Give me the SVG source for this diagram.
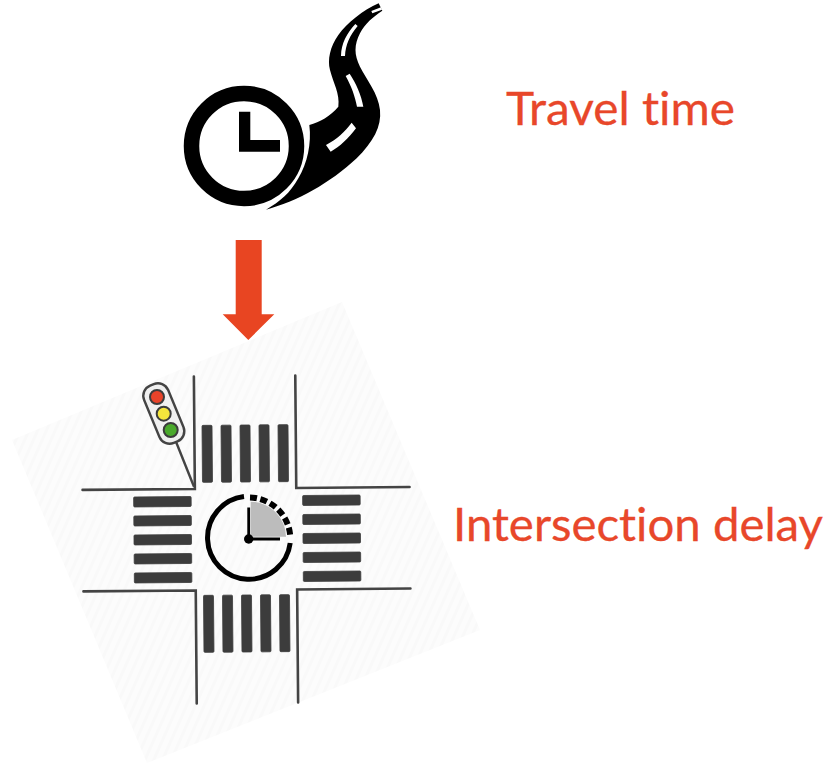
<svg xmlns="http://www.w3.org/2000/svg" width="830" height="766" viewBox="0 0 830 766">
<style>
.label{font-family:"Lato","Liberation Sans",sans-serif;font-size:46px;fill:#e8472a;font-variant-ligatures:none;stroke:#e8472a;stroke-width:.3}
.road{fill:none;stroke:#444;stroke-width:2.6;stroke-linecap:round}
.bar{fill:#3c3c3c;stroke:#3c3c3c;stroke-width:.8}
.lamp{stroke:#3c3c3c;stroke-width:2}
</style>
<defs>
<pattern id="stripes" width="8" height="8" patternUnits="userSpaceOnUse" patternTransform="rotate(24)">
<rect width="8" height="8" fill="#fcfcfc"/>
<rect width="3" height="8" fill="#f9f9f9"/>
</pattern>
</defs>
<rect width="830" height="766" fill="#fff"/>
<g id="travel-time-icon">
<g transform="translate(170 0) scale(.33333)">
<path d="M288 629C380 605 480 550 560 475C610 425 635 380 630 330C625 280 590 240 570 200C552 165 552 135 570 100C585 70 610 50 637 32L626 10C580 30 530 70 505 105C480 140 472 180 480 210C490 250 510 280 505 320C480 350 450 365 418 375C425 430 412 490 385 535C360 580 330 605 288 629Z" fill="#000"/>
<path d="M468 435L482 455C510 440 535 415 558 385L545 368C525 395 500 418 468 435Z M527 228L539 221C558 250 574 285 580 320L561 320C555 290 545 260 527 228Z M513 168L525 168C526 135 540 105 563 78L556 72C530 100 514 130 513 168Z M604 33L633 22L636 29L607 40Z" fill="#fff"/>
</g>
<circle cx="244" cy="146" r="52.500" fill="#fff" stroke="#000" stroke-width="15.500"/>
<path d="M239 111.700H250.300V140H280V151.700H239Z" fill="#000"/>
</g>
<g id="arrow">
<path d="M235.700 240H261.700V314.300H274.300L248.300 340L222.700 314.300H235.700Z" fill="#e84522"/>
</g>
<g id="intersection-icon">
<path d="M342 302L480 630L147 763L12 440Z" fill="url(#stripes)"/>
<g transform="rotate(-.5 246 539)">
<g id="roads">
<path class="road" d="M195.300 376V488.500H83"/>
<path class="road" d="M296.700 376V488.500H410"/>
<path class="road" d="M83 590H195.300V703"/>
<path class="road" d="M410 590H296.700V703"/>
</g>
<g id="crosswalk-top">
<rect class="bar" x="203" y="425" width="10" height="57" rx="1"/>
<rect class="bar" x="222" y="425" width="10" height="57" rx="1"/>
<rect class="bar" x="241" y="425" width="10" height="57" rx="1"/>
<rect class="bar" x="260" y="425" width="10" height="57" rx="1"/>
<rect class="bar" x="279" y="425" width="10" height="57" rx="1"/>
</g>
<g id="crosswalk-bottom">
<rect class="bar" x="203" y="595" width="10" height="57" rx="1"/>
<rect class="bar" x="222" y="595" width="10" height="57" rx="1"/>
<rect class="bar" x="241" y="595" width="10" height="57" rx="1"/>
<rect class="bar" x="260" y="595" width="10" height="57" rx="1"/>
<rect class="bar" x="279" y="595" width="10" height="57" rx="1"/>
</g>
<g id="crosswalk-left">
<rect class="bar" x="134" y="496" width="57.500" height="10" rx="1"/>
<rect class="bar" x="134" y="515" width="57.500" height="10" rx="1"/>
<rect class="bar" x="134" y="534" width="57.500" height="10" rx="1"/>
<rect class="bar" x="134" y="553" width="57.500" height="10" rx="1"/>
<rect class="bar" x="134" y="572" width="57.500" height="10" rx="1"/>
</g>
<g id="crosswalk-right">
<rect class="bar" x="303" y="496" width="57.500" height="10" rx="1"/>
<rect class="bar" x="303" y="515" width="57.500" height="10" rx="1"/>
<rect class="bar" x="303" y="534" width="57.500" height="10" rx="1"/>
<rect class="bar" x="303" y="553" width="57.500" height="10" rx="1"/>
<rect class="bar" x="303" y="572" width="57.500" height="10" rx="1"/>
</g>
</g>
<g id="traffic-light">
<path d="M176 441.700L194 486.700" fill="none" stroke="#444" stroke-width="2.400"/>
<rect x="-13" y="-31" width="26" height="62" rx="11" transform="translate(163.800 413.500) rotate(-22.500)" fill="#f0f0f0" stroke="#444" stroke-width="2.400"/>
<circle class="lamp" cx="157" cy="397" r="7" fill="#e8432a"/>
<circle class="lamp" cx="163.700" cy="413.700" r="7" fill="#f5e63c"/>
<circle class="lamp" cx="170.700" cy="430" r="7" fill="#4aa92c"/>
</g>
<g id="delay-clock">
<path d="M250.700 501.700A35.500 35.500 0 0 1 286 536.700H250.700Z" fill="#bcbcbc"/>
<path d="M244 496.500A41.500 41.500 0 1 0 290.200 543" fill="none" stroke="#000" stroke-width="5"/>
<path d="M250 497.500A41.500 41.500 0 0 1 290.200 535.500" fill="none" stroke="#000" stroke-width="6" stroke-dasharray="7 3.500"/>
<path d="M248.700 539V507.500M248.700 539H280" fill="none" stroke="#000" stroke-width="2.800"/>
<circle cx="248.700" cy="539" r="4.700" fill="#000"/>
</g>
</g>
<g id="labels">
<text class="label" x="506" y="125" textLength="229" lengthAdjust="spacingAndGlyphs">Travel time</text>
<text class="label" x="453" y="541" textLength="370" lengthAdjust="spacingAndGlyphs">Intersection delay</text>
</g>
</svg>
